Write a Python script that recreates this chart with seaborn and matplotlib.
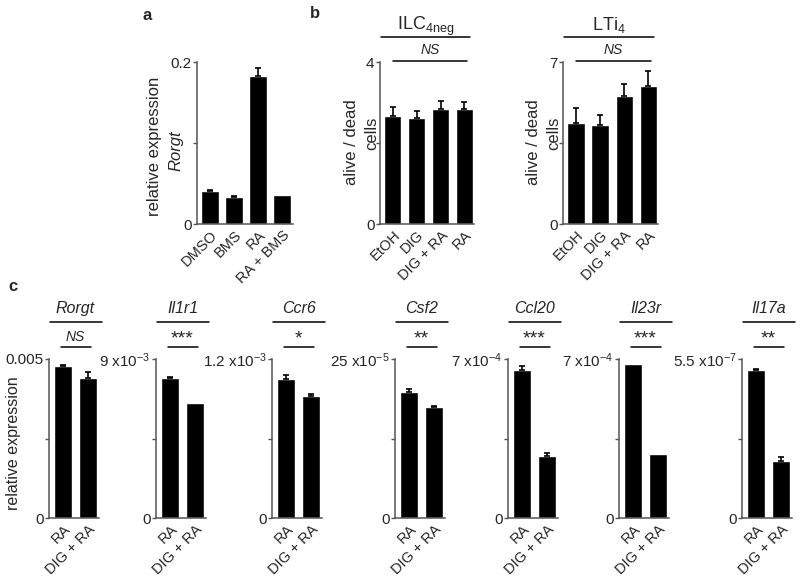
import numpy as np
import pandas as pd
import seaborn as sns
import matplotlib.pyplot as plt
import matplotlib.transforms as mtransforms

sns.set_style("ticks")
plt.rcParams["font.family"] = ["Liberation Sans", "DejaVu Sans"]
plt.rcParams["mathtext.fontset"] = "custom"
plt.rcParams["mathtext.rm"] = "Liberation Sans"
plt.rcParams["mathtext.it"] = "Liberation Sans:italic"
plt.rcParams["font.size"] = 10

# ---- data ----
# panel a
a_groups = ["DMSO", "BMS", "RA", "RA + BMS"]
a_mean = [0.0407, 0.0333, 0.183, 0.0358]
a_err = [0.0012, 0.0010, 0.010, 0.0]

# panel b
b_groups = ["EtOH", "DIG", "DIG + RA", "RA"]
ilc_mean = [2.67, 2.62, 2.84, 2.84]
ilc_err = [0.22, 0.17, 0.20, 0.17]
lti_mean = [4.36, 4.28, 5.53, 5.96]
lti_err = [0.65, 0.43, 0.52, 0.65]

# panel c
c_groups = ["RA", "DIG + RA"]
genes = ["Rorgt", "Il1r1", "Ccr6", "Csf2", "Ccl20", "Il23r", "Il17a"]
c_ra = [0.00478, 7.92e-3, 1.049e-3, 19.8e-5, 6.52e-4, 6.78e-4, 5.12e-7]
c_ra_err = [0.00003, 0.08e-3, 0.03e-3, 0.5e-5, 0.17e-4, 0.0, 0.05e-7]
c_dig = [0.0044, 6.51e-3, 0.92e-3, 17.45e-5, 2.71e-4, 2.80e-4, 1.96e-7]
c_dig_err = [0.00019, 0.0, 0.016e-3, 0.15e-5, 0.13e-4, 0.0, 0.14e-7]
c_ymax = [0.005, 9e-3, 1.2e-3, 25e-5, 7e-4, 7e-4, 5.5e-7]
c_toplabel = ["0.005", r"9 x10$^{-3}$", r"1.2 x10$^{-3}$", r"25 x10$^{-5}$",
              r"7 x10$^{-4}$", r"7 x10$^{-4}$", r"5.5 x10$^{-7}$"]
c_sig = ["NS", "***", "*", "**", "***", "***", "**"]

W, H = 800, 581
fig = plt.figure(figsize=(W / 100, H / 100), dpi=100)


def px_axes(x0, x1, ytop, ybot):
    return fig.add_axes([x0 / W, 1 - ybot / H, (x1 - x0) / W, (ybot - ytop) / H])


def bars(ax, groups, mean, err, ymax, toplabel, width):
    df = pd.DataFrame({"group": groups, "value": mean})
    sns.barplot(data=df, x="group", y="value", color="black", saturation=1,
                width=width, errorbar=None, ax=ax)
    # only upper error bars, and only where there is one
    idx = [i for i in range(len(err)) if err[i] > 0]
    if idx:
        m = np.array(mean)[idx]
        e = np.array(err)[idx]
        ax.errorbar(idx, m, yerr=[np.zeros(len(e)), e], fmt="none", ecolor="black",
                    elinewidth=1.2, capsize=2.5, capthick=1.2)
    ax.set_ylim(0, ymax)
    ax.set_yticks([0, ymax / 2, ymax])
    ax.set_yticklabels(["0", "", toplabel])
    ax.set_xlabel("")
    ax.set_ylabel("")
    ax.tick_params(axis="y", length=3, width=1, color="#555555", pad=1, labelsize=11)
    ax.tick_params(axis="x", length=0, pad=3, labelsize=10.5)
    plt.setp(ax.get_xticklabels(), rotation=45, ha="right", rotation_mode="anchor")
    sns.despine(ax=ax)
    for s in ["left", "bottom"]:
        ax.spines[s].set_color("#555555")
        ax.spines[s].set_linewidth(1.1)


def hline(ax, x0, x1, y):
    tr = mtransforms.blended_transform_factory(ax.transData, ax.transAxes)
    ax.plot([x0, x1], [y, y], color="black", lw=1.1, transform=tr, clip_on=False)


# ---- panel a ----
ax_a = px_axes(197, 293, 62, 224)
bars(ax_a, a_groups, a_mean, a_err, 0.2, "0.2", 0.75)
ax_a.set_xlim(-0.55, 3.45)
fig.text(155 / W, 1 - 146 / H, "relative expression", rotation=90,
         ha="center", va="center", fontsize=12)
fig.text(176 / W, 1 - 151 / H, "Rorgt", rotation=90, style="italic",
         ha="center", va="center", fontsize=12)
fig.text(147 / W, 1 - 15 / H, "a", weight="bold", ha="center", va="center", fontsize=12)

# ---- panel b ----
fig.text(315 / W, 1 - 13 / H, "b", weight="bold", ha="center", va="center", fontsize=12)
for x0, x1, mean, err, ymax, title, ylab_x, cells_x in [
    (380, 474, ilc_mean, ilc_err, 4, r"ILC$_{\mathrm{4neg}}$", 351, 372),
    (563, 658, lti_mean, lti_err, 7, r"LTi$_{\mathrm{4}}$", 533, 554),
]:
    ax = px_axes(x0, x1, 62, 224)
    bars(ax, b_groups, mean, err, ymax, str(ymax), 0.72)
    ax.set_xlim(-0.54, 3.4)
    hline(ax, -0.48, 3.22, 1.154)
    hline(ax, 0.0, 3.1, 1.006)
    tr = mtransforms.blended_transform_factory(ax.transData, ax.transAxes)
    ax.text(1.37, 1.2, title, transform=tr, ha="center", va="baseline", fontsize=13)
    ax.text(1.55, 1.03, "NS", transform=tr, ha="center", va="bottom",
            style="italic", fontsize=10)
    fig.text(ylab_x / W, 1 - 142 / H, "alive / dead", rotation=90,
             ha="center", va="center", fontsize=12)
    fig.text(cells_x / W, 1 - 133 / H, "cells", rotation=90,
             ha="center", va="center", fontsize=12)

# ---- panel c ----
fig.text(13 / W, 1 - 287 / H, "c", weight="bold", ha="center", va="center", fontsize=12)
c_left = [49, 156, 272, 395, 508, 619, 742]
for i, gene in enumerate(genes):
    ax = px_axes(c_left[i], c_left[i] + 50, 359, 518)
    bars(ax, c_groups, [c_ra[i], c_dig[i]], [c_ra_err[i], c_dig_err[i]],
         c_ymax[i], c_toplabel[i], 0.75)
    ax.set_xlim(-0.56, 1.44)
    hline(ax, -0.54, 1.56, 1.233)
    hline(ax, -0.1, 1.1, 1.075)
    tr = mtransforms.blended_transform_factory(ax.transData, ax.transAxes)
    ax.text(0.5, 1.27, gene, transform=tr, ha="center", va="bottom",
            style="italic", fontsize=11.5)
    if c_sig[i] == "NS":
        ax.text(0.5, 1.095, "NS", transform=tr, ha="center", va="bottom",
                style="italic", fontsize=10)
    else:
        ax.text(0.5, 1.075, c_sig[i], transform=tr, ha="center", va="bottom",
                fontsize=14)
fig.text(14 / W, 1 - 443 / H, "relative expression", rotation=90,
         ha="center", va="center", fontsize=11.5)

fig.savefig("out.png", dpi=100)
